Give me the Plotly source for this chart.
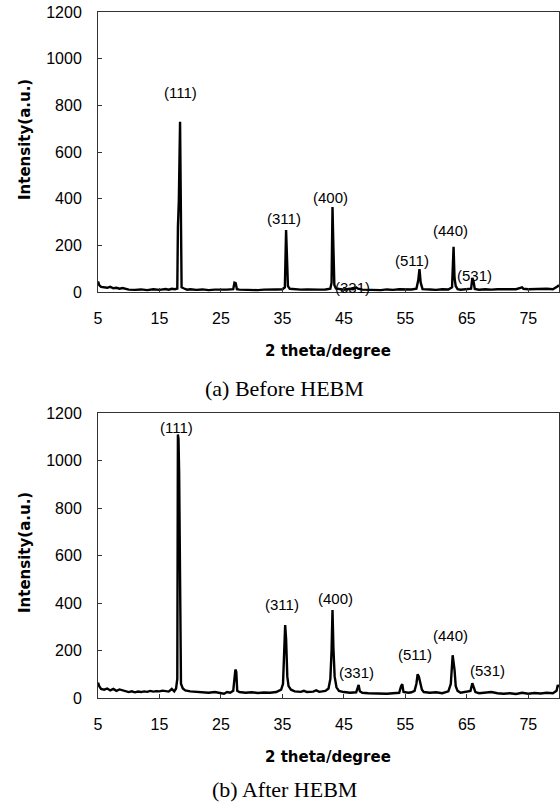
import plotly.graph_objects as go

# ---- (a) Before HEBM : 2theta (deg) and intensity (a.u.)
theta_a = [5.0, 5.2, 5.5, 6.0, 6.5, 7.0, 7.5, 8.0, 8.5, 9.0, 9.5, 10.0, 11.0, 12.0, 13.0, 14.0, 15.0,
           16.0, 16.5, 17.0, 17.5, 17.9, 18.0, 18.15, 18.35, 18.5, 18.6, 19.0, 19.5, 20.0, 21.0,
           22.0, 23.0, 24.0, 25.0, 26.0, 27.0, 27.2, 27.4, 27.6, 28.0, 29.0, 30.0, 31.0, 32.0,
           33.0, 34.0, 35.0, 35.4, 35.6, 35.75, 35.9, 36.2, 37.0, 38.0, 39.0, 40.0, 41.0, 42.0,
           42.8, 43.0, 43.15, 43.3, 43.45, 43.7, 44.5, 45.0, 46.0, 46.5, 47.0, 47.3, 48.0, 49.0,
           50.0, 51.0, 52.0, 53.0, 54.0, 55.0, 56.0, 56.8, 57.1, 57.3, 57.5, 57.8, 58.5, 59.0,
           60.0, 61.0, 62.0, 62.6, 62.85, 63.0, 63.2, 63.5, 64.0, 65.0, 65.7, 65.9, 66.1, 66.3,
           67.0, 68.0, 69.0, 70.0, 71.0, 72.0, 73.0, 74.0, 74.2, 75.0, 76.0, 77.0, 78.0, 79.0,
           79.5, 79.8, 80.0]
inten_a = [45, 30, 22, 20, 18, 22, 16, 18, 14, 17, 12, 10, 9, 11, 8, 12, 9,
           13, 10, 14, 12, 15, 280, 390, 730, 380, 20, 15, 10, 12, 9,
           11, 8, 10, 9, 10, 12, 40, 38, 12, 10, 9, 11, 8, 10,
           9, 11, 12, 20, 266, 150, 25, 14, 12, 10, 11, 9, 10, 11,
           14, 40, 364, 190, 30, 15, 12, 10, 14, 12, 20, 14, 10, 9,
           10, 8, 11, 9, 12, 10, 11, 14, 50, 98, 40, 12, 10, 11,
           9, 12, 11, 20, 194, 60, 25, 12, 10, 12, 14, 60, 45, 13,
           10, 12, 10, 12, 11, 13, 12, 20, 14, 12, 13, 11, 14, 12,
           18, 25, 30]

# ---- (b) After HEBM
theta_b = [5.0, 5.2, 5.5, 6.0, 6.5, 7.0, 7.5, 8.0, 8.5, 9.0, 9.5, 10.0, 10.5, 11.0, 11.5, 12.0,
           12.5, 13.0, 13.5, 14.0, 14.5, 15.0, 15.5, 16.0, 16.5, 17.0, 17.4, 17.7, 17.9, 18.0,
           18.1, 18.2, 18.35, 18.5, 18.8, 19.2, 20.0, 21.0, 22.0, 23.0, 24.0, 25.0, 25.5, 26.0,
           26.5, 27.0, 27.2, 27.35, 27.5, 27.65, 28.0, 29.0, 30.0, 31.0, 32.0, 33.0, 34.0, 34.8,
           35.1, 35.3, 35.45, 35.6, 35.8, 36.0, 36.4, 37.0, 38.0, 38.5, 39.0, 40.0, 40.5, 41.0,
           42.0, 42.5, 42.8, 43.0, 43.15, 43.3, 43.5, 43.8, 44.2, 45.0, 46.0, 47.0, 47.2, 47.4,
           47.6, 48.0, 49.0, 50.0, 51.0, 52.0, 53.0, 54.0, 54.3, 54.5, 54.7, 55.5, 56.0, 56.5,
           56.8, 57.0, 57.2, 57.4, 57.7, 58.0, 59.0, 60.0, 61.0, 62.0, 62.4, 62.7, 62.85, 63.0,
           63.2, 63.5, 64.0, 65.0, 65.6, 65.9, 66.1, 66.4, 67.0, 68.0, 69.0, 70.0, 71.0, 72.0,
           73.0, 74.0, 75.0, 76.0, 77.0, 78.0, 79.0, 79.6, 79.8, 80.0]
inten_b = [65, 50, 38, 35, 40, 32, 38, 30, 36, 33, 30, 25, 28, 24, 27, 25,
           28, 26, 30, 27, 29, 28, 31, 30, 27, 38, 28, 40, 80, 1110,
           1090, 950, 300, 60, 40, 32, 28, 25, 24, 22, 25, 22, 18, 25,
           22, 30, 100, 120, 110, 30, 25, 22, 24, 21, 23, 22, 25, 35,
           60, 200, 307, 250, 90, 50, 35, 28, 26, 30, 25, 27, 32, 26,
           30, 40, 80, 200, 370, 210, 90, 45, 30, 25, 22, 24, 45, 55,
           28, 22, 20, 19, 21, 18, 20, 22, 50, 58, 25, 22, 24, 30,
           60, 100, 90, 70, 35, 25, 22, 24, 20, 28, 60, 180, 150, 120,
           50, 30, 22, 25, 30, 62, 50, 25, 20, 22, 25, 20, 18, 20,
           17, 22, 18, 21, 19, 22, 20, 30, 55, 45]

# ---- peak labels (Miller indices) and where they sit
labels = ["(111)", "(311)", "(400)", "(331)", "(511)", "(440)", "(531)"]
lab_a_x = [18.4, 35.3, 42.8, 46.4, 56.1, 62.4, 66.2]
lab_a_y = [857, 313, 407, 20, 137, 262, 69]
lab_b_x = [17.7, 35.0, 43.7, 47.1, 56.5, 62.4, 68.3]
lab_b_y = [1141, 392, 421, 109, 185, 265, 114]

x_ticks = [5, 15, 25, 35, 45, 55, 65, 75]
y_ticks = [0, 200, 400, 600, 800, 1000, 1200]

W, H = 560, 802
fig = go.Figure()
fig.add_trace(go.Scatter(x=theta_a, y=inten_a, mode="lines", xaxis="x", yaxis="y",
                         line=dict(color="black", width=2.4), showlegend=False))
fig.add_trace(go.Scatter(x=theta_b, y=inten_b, mode="lines", xaxis="x2", yaxis="y2",
                         line=dict(color="black", width=2.4), showlegend=False))

def py(p):
    return 1 - p / H

xdom = [98 / W, 559 / W]
tickfont = dict(family="Liberation Sans, Arial, sans-serif", size=16, color="black")
axis_common = dict(showgrid=False, zeroline=False, showline=True, linecolor="#333",
                   linewidth=1, mirror=True, ticks="inside", ticklen=4, tickcolor="#333",
                   tickfont=tickfont, automargin=False)

fig.update_layout(
    width=W, height=H, margin=dict(l=0, r=0, t=0, b=0, autoexpand=False),
    paper_bgcolor="white", plot_bgcolor="white",
    xaxis=dict(domain=xdom, range=[5, 80], tickvals=x_ticks, anchor="y",
               ticklabelstandoff=12, **axis_common),
    yaxis=dict(domain=[py(292), py(12)], range=[0, 1200], tickvals=y_ticks, anchor="x",
               ticklabelstandoff=12, **axis_common),
    xaxis2=dict(domain=xdom, range=[5, 80], tickvals=x_ticks, anchor="y2",
                ticklabelstandoff=12, **axis_common),
    yaxis2=dict(domain=[py(698), py(413)], range=[0, 1200], tickvals=y_ticks, anchor="x2",
                ticklabelstandoff=12, **axis_common),
)

ann = []
labfont = dict(family="Liberation Sans, Arial, sans-serif", size=15, color="black")
for t, xx, yy in zip(labels, lab_a_x, lab_a_y):
    ann.append(dict(text=t, x=xx, y=yy, xref="x", yref="y", showarrow=False, font=labfont,
                    xanchor="center", yanchor="middle"))
for t, xx, yy in zip(labels, lab_b_x, lab_b_y):
    ann.append(dict(text=t, x=xx, y=yy, xref="x2", yref="y2", showarrow=False, font=labfont,
                    xanchor="center", yanchor="middle"))

titlefont = dict(family="DejaVu Sans, sans-serif", size=15, color="black")
capfont = dict(family="Liberation Serif, Times New Roman, serif", size=22, color="black")
center = dict(xref="paper", yref="paper", showarrow=False, xanchor="center", yanchor="middle")
for yc in [351, 757]:
    ann.append(dict(text="<b>2 theta/degree</b>", x=328 / W, y=py(yc), font=titlefont, **center))
for yc in [140, 553]:
    ann.append(dict(text="<b>Intensity(a.u.)</b>", x=25 / W, y=py(yc), textangle=-90,
                    font=titlefont, **center))
ann.append(dict(text="(a) Before HEBM", x=284 / W, y=py(388), font=capfont, **center))
ann.append(dict(text="(b) After HEBM", x=284 / W, y=py(789), font=capfont, **center))
fig.update_layout(annotations=ann)

fig.write_html("out.html", config={"displayModeBar": False},
               post_script="document.body.style.margin='0';document.body.style.overflow='hidden';")
